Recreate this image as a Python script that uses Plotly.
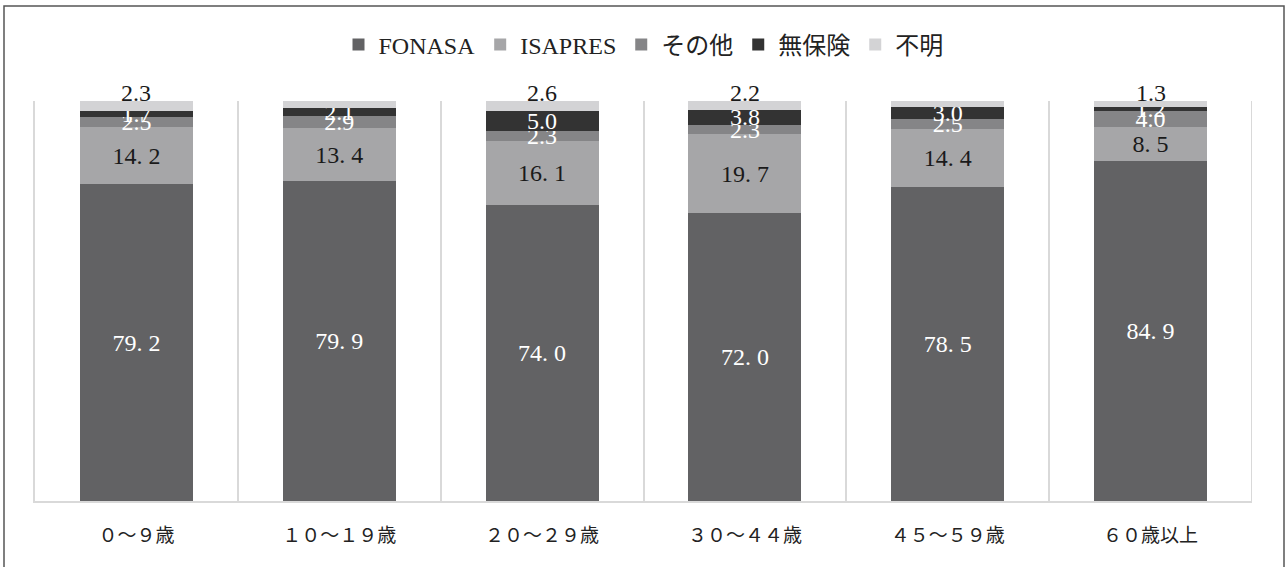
import plotly.graph_objects as go

categories = ["０～９歳", "１０～１９歳", "２０～２９歳", "３０～４４歳", "４５～５９歳", "６０歳以上"]
fonasa = [79.2, 79.9, 74.0, 72.0, 78.5, 84.9]
isapres = [14.2, 13.4, 16.1, 19.7, 14.4, 8.5]
sonota = [2.5, 2.9, 2.3, 2.3, 2.5, 4.0]
muhoken = [1.7, 2.1, 5.0, 3.8, 3.0, 1.2]
fumei = [2.3, 1.9, 2.6, 2.2, 1.7, 1.3]

series = [
    ("FONASA", fonasa, "#626264", "white", True),
    ("ISAPRES", isapres, "#a6a6a8", "#1a1a1a", True),
    ("その他", sonota, "#858587", "white", False),
    ("無保険", muhoken, "#333333", "white", False),
    ("不明", fumei, "#d3d3d5", "#1a1a1a", False),
]

SERIF = "Liberation Serif, Noto Sans CJK JP"
VFONT = 24

fig = go.Figure()
annotations = []
for i, (name, vals, color, tcolor, wide) in enumerate(series):
    if wide:
        txt = [f"{v:.1f}".replace(".", ". ") for v in vals]
    else:
        txt = [f"{v:.1f}" for v in vals]
    last = i == len(series) - 1
    fig.add_trace(go.Bar(
        name=name, x=categories, y=vals, marker=dict(color=color, line=dict(width=0)),
        text=None if last else txt, textposition="inside",
        insidetextanchor="middle", constraintext="none", cliponaxis=False,
        textfont=dict(family=SERIF, size=VFONT, color=tcolor),
        insidetextfont=dict(family=SERIF, size=VFONT, color=tcolor),
        hoverinfo="skip",
    ))
    if last:
        totals = [sum(s[1][k] for s in series) for k in range(len(categories))]
        for c, tot, t in zip(categories, totals, txt):
            annotations.append(dict(x=c, y=tot, xref="x", yref="y", text=t, showarrow=False,
                                    yanchor="middle", yshift=8,
                                    font=dict(family=SERIF, size=VFONT, color=tcolor)))

W0, H0 = 1288, 567
L, R, T, B = 35, 36, 101, 66
pw, ph = W0 - L - R, H0 - T - B

def px_to_paper_x(px):
    return (px - L) / pw

def px_to_paper_y(py):
    return (H0 - B - py) / ph

GRID = "#d9d9d9"
fig.update_layout(
    width=W0, height=H0,
    margin=dict(l=L, r=R, t=T, b=B, pad=0),
    barmode="stack", bargap=0.443,
    paper_bgcolor="white", plot_bgcolor="white",
    showlegend=True,
    legend=dict(orientation="h", x=0.5, xanchor="center", y=px_to_paper_y(45), yanchor="middle",
                traceorder="normal", font=dict(family=SERIF, size=24, color="#222222"),
                itemwidth=30, itemclick=False),
    xaxis=dict(type="category", tickson="boundaries", showgrid=True, gridcolor=GRID, gridwidth=2,
               showline=True, linecolor=GRID, linewidth=2, ticks="",
               tickfont=dict(family="Noto Sans CJK JP", size=19, color="#222222"),
               ticklabelstandoff=16, range=[-0.5, 5.5], fixedrange=True),
    yaxis=dict(range=[0, 100], showgrid=False, zeroline=False, showticklabels=False, ticks="",
               showline=True, linecolor=GRID, linewidth=2, fixedrange=True),
    annotations=annotations,
    shapes=[
        dict(type="line", xref="x", yref="y", x0=5.5, x1=5.5, y0=0, y1=100,
             line=dict(color=GRID, width=2), layer="below"),
        dict(type="rect", xref="paper", yref="paper",
             x0=px_to_paper_x(4), x1=px_to_paper_x(1284),
             y0=px_to_paper_y(575), y1=px_to_paper_y(6),
             line=dict(color="#555555", width=1.5), fillcolor="rgba(0,0,0,0)", layer="below"),
    ],
)

fig.write_html("out.html")
